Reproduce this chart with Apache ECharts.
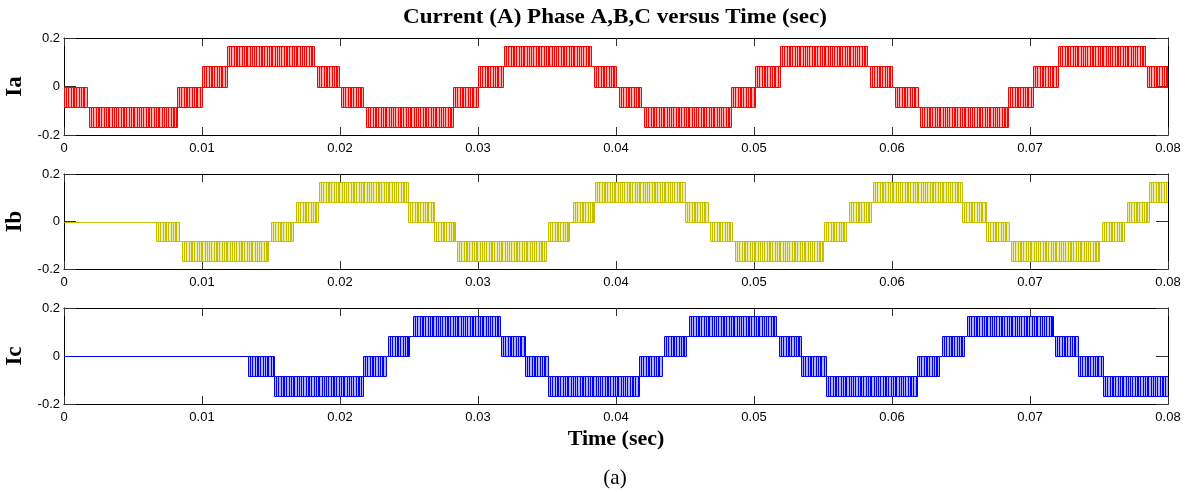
<!DOCTYPE html>
<html>
<head>
<meta charset="utf-8">
<script src="https://cdn.jsdelivr.net/npm/echarts@6/dist/echarts.min.js"></script>
<style>
html,body{margin:0;padding:0;background:#fff;}
#chart{width:1190px;height:492px;}
</style>
</head>
<body>
<div id="chart"></div>
<script>
// ---- data ----
const xTickLabels = ['0', '0.01', '0.02', '0.03', '0.04', '0.05', '0.06', '0.07', '0.08'];
const yTickLabels = ['-0.2', '0', '0.2'];
const phaseNames = ['Ia', 'Ib', 'Ic'];
const phaseColors = ['#ff0000', '#c4c000', '#0000ff'];

// segments: [t start, t end, level A, level B] (signal chops between level A and level B)
const iaSegments = [
  [0, 0.00165, 0, -0.083], [0.00184, 0.0082, -0.083, -0.167], [0.0082, 0.0100, -0.083, 0],
  [0.0100, 0.0118, 0, 0.083], [0.0118, 0.0181, 0.083, 0.167], [0.0183, 0.0199, 0.083, 0],
  [0.0201, 0.0217, 0, -0.083], [0.0219, 0.0282, -0.083, -0.167], [0.0282, 0.0300, -0.083, 0],
  [0.0300, 0.0318, 0, 0.083], [0.0319, 0.0382, 0.083, 0.167], [0.0384, 0.0400, 0.083, 0],
  [0.0402, 0.0418, 0, -0.083], [0.0420, 0.0483, -0.083, -0.167], [0.0483, 0.0501, -0.083, 0],
  [0.0501, 0.0519, 0, 0.083], [0.0519, 0.0582, 0.083, 0.167], [0.0584, 0.0600, 0.083, 0],
  [0.0602, 0.0619, 0, -0.083], [0.0620, 0.0684, -0.083, -0.167], [0.0684, 0.0702, -0.083, 0],
  [0.0702, 0.0720, 0, 0.083], [0.0720, 0.0783, 0.083, 0.167], [0.0785, 0.0800, 0.083, 0]
];
const ibSegments = [
  [0, 0.0067, 0, 0], [0.0067, 0.00835, 0, -0.083], [0.00855, 0.0148, -0.083, -0.167],
  [0.0150, 0.0166, -0.083, 0], [0.0168, 0.0184, 0, 0.083], [0.0185, 0.0249, 0.083, 0.167],
  [0.0249, 0.0268, 0.083, 0], [0.0268, 0.0283, 0, -0.083], [0.0285, 0.0349, -0.083, -0.167],
  [0.0351, 0.0366, -0.083, 0], [0.0369, 0.0384, 0, 0.083], [0.0385, 0.0450, 0.083, 0.167],
  [0.0450, 0.0467, 0.083, 0], [0.0468, 0.0484, 0, -0.083], [0.0486, 0.0550, -0.083, -0.167],
  [0.0551, 0.0567, -0.083, 0], [0.0569, 0.0585, 0, 0.083], [0.0586, 0.0651, 0.083, 0.167],
  [0.0651, 0.0668, 0.083, 0], [0.0668, 0.0685, 0, -0.083], [0.0686, 0.0750, -0.083, -0.167],
  [0.0752, 0.0768, -0.083, 0], [0.0770, 0.0786, 0, 0.083], [0.0786, 0.0800, 0.083, 0.167]
];
const icSegments = [
  [0, 0.0133, 0, 0], [0.0133, 0.0152, 0, -0.083], [0.0152, 0.0217, -0.083, -0.167],
  [0.0217, 0.0233, -0.083, 0], [0.0235, 0.0250, 0, 0.083], [0.0253, 0.0316, 0.083, 0.167],
  [0.0317, 0.0334, 0.083, 0], [0.0334, 0.0351, 0, -0.083], [0.0351, 0.0417, -0.083, -0.167],
  [0.0417, 0.0433, -0.083, 0], [0.0435, 0.0451, 0, 0.083], [0.0453, 0.0516, 0.083, 0.167],
  [0.0518, 0.0534, 0.083, 0], [0.0534, 0.0552, 0, -0.083], [0.0552, 0.0618, -0.083, -0.167],
  [0.0618, 0.0634, -0.083, 0], [0.0636, 0.0652, 0, 0.083], [0.0654, 0.0717, 0.083, 0.167],
  [0.0718, 0.0735, 0.083, 0], [0.0735, 0.0753, 0, -0.083], [0.0753, 0.0800, -0.083, -0.167]
];
const phaseSegments = [iaSegments, ibSegments, icSegments];

// ---- layout / style ----
const gridTops = [38, 174, 308];
const gridHeights = [97, 95, 96];
const PITCH = [2, 2, 3, 2, 1, 2, 3, 2, 2, 1, 3, 2]; // drawing pitch of the switching strokes (px)

function pulseRenderer(segs, color) {
  return function (params, api) {
    const i = params.dataIndex;
    const s = segs[i];
    const a = api.coord([s[0], s[2]]);
    const b = api.coord([s[1], s[3]]);
    const x0 = Math.round(a[0]) + 0.5, x1 = Math.round(b[0]) + 0.5;
    const ya = Math.round(a[1]) + 0.5, yb = Math.round(b[1]) + 0.5;
    const st = { stroke: color, lineWidth: 1, fill: null };
    const ch = [];
    ch.push({ type: 'line', shape: { x1: x0, y1: ya, x2: x1, y2: ya }, style: st });
    if (s[2] !== s[3]) {
      ch.push({ type: 'rect', shape: { x: x0, y: Math.min(ya, yb), width: x1 - x0, height: Math.abs(yb - ya) },
                style: { fill: color, opacity: 0.3 } });
      ch.push({ type: 'line', shape: { x1: x0, y1: yb, x2: x1, y2: yb }, style: st });
      let x = x0, k = 0;
      while (x < x1) {
        ch.push({ type: 'line', shape: { x1: x, y1: ya, x2: x, y2: yb }, style: st });
        x += PITCH[k++ % PITCH.length];
      }
      ch.push({ type: 'line', shape: { x1: x1, y1: ya, x2: x1, y2: yb }, style: st });
    }
    if (i > 0) {
      const p = segs[i - 1];
      if (p[1] < s[0]) {
        const shared = [p[2], p[3]].find(v => v === s[2] || v === s[3]);
        if (shared !== undefined) {
          const pc = api.coord([p[1], shared]);
          const ys = Math.round(pc[1]) + 0.5;
          ch.push({ type: 'line', shape: { x1: Math.round(pc[0]) + 0.5, y1: ys, x2: x0, y2: ys }, style: st });
        }
      }
    }
    return { type: 'group', children: ch };
  };
}

const grids = [], xAxes = [], yAxes = [], series = [];
const labelFont = { fontFamily: 'Liberation Sans, Arial, sans-serif', fontSize: 13, color: '#000' };
for (let i = 0; i < 3; i++) {
  grids.push({ left: 64, right: 22, top: gridTops[i], height: gridHeights[i], containLabel: false, outerBoundsMode: 'none' });
  const xBase = {
    gridIndex: i, type: 'value', min: 0, max: 0.08, interval: 0.01,
    axisLine: { show: true, onZero: false, lineStyle: { color: '#000', width: 1 } },
    axisTick: { show: true, inside: true, length: 8, lineStyle: { color: '#333' } },
    splitLine: { show: false }
  };
  xAxes.push(Object.assign({}, xBase, {
    position: 'bottom',
    axisLabel: Object.assign({ margin: 7, formatter: v => xTickLabels[Math.round(v / 0.01)] }, labelFont),
    name: i === 2 ? 'Time (sec)' : '',
    nameLocation: 'middle', nameGap: 24,
    nameTextStyle: { fontFamily: 'Liberation Serif, Times New Roman, serif', fontWeight: 'bold', fontSize: 22, color: '#000' }
  }));
  xAxes.push(Object.assign({}, xBase, { position: 'top', axisLabel: { show: false } }));
  const yBase = {
    gridIndex: i, type: 'value', min: -0.2, max: 0.2, interval: 0.2,
    axisLine: { show: true, onZero: false, lineStyle: { color: '#000', width: 1 } },
    axisTick: { show: true, inside: true, length: 12, lineStyle: { color: '#333' } },
    splitLine: { show: false }
  };
  yAxes.push(Object.assign({}, yBase, {
    position: 'left',
    axisLabel: Object.assign({ margin: 4, formatter: v => yTickLabels[Math.round(v / 0.2) + 1] }, labelFont),
    name: phaseNames[i], nameLocation: 'middle', nameRotate: 90, nameGap: 36,
    nameTextStyle: { fontFamily: 'Liberation Serif, Times New Roman, serif', fontWeight: 'bold', fontSize: 23, color: '#000' }
  }));
  yAxes.push(Object.assign({}, yBase, { position: 'right', axisLabel: { show: false } }));
  series.push({
    type: 'custom', xAxisIndex: 2 * i, yAxisIndex: 2 * i,
    data: phaseSegments[i], encode: { x: [0, 1], y: [2, 3] },
    renderItem: pulseRenderer(phaseSegments[i], phaseColors[i]),
    clip: true, silent: true, animation: false, z: 1
  });
}

const chart = echarts.init(document.getElementById('chart'), null, { renderer: 'canvas' });
chart.setOption({
  backgroundColor: '#ffffff',
  animation: false,
  grid: grids, xAxis: xAxes, yAxis: yAxes, series: series,
  graphic: [
    { type: 'text', x: 615, y: 18, scaleX: 1.1, style: { text: 'Current (A) Phase A,B,C versus Time (sec)', textAlign: 'center', textVerticalAlign: 'middle',
      font: 'bold 21px "Liberation Serif", "Times New Roman", serif', fill: '#000' } },
    { type: 'text', x: 615, y: 478, style: { text: '(a)', textAlign: 'center', textVerticalAlign: 'middle',
      font: '21px "Liberation Serif", "Times New Roman", serif', fill: '#000' } }
  ]
});
</script>
</body>
</html>
